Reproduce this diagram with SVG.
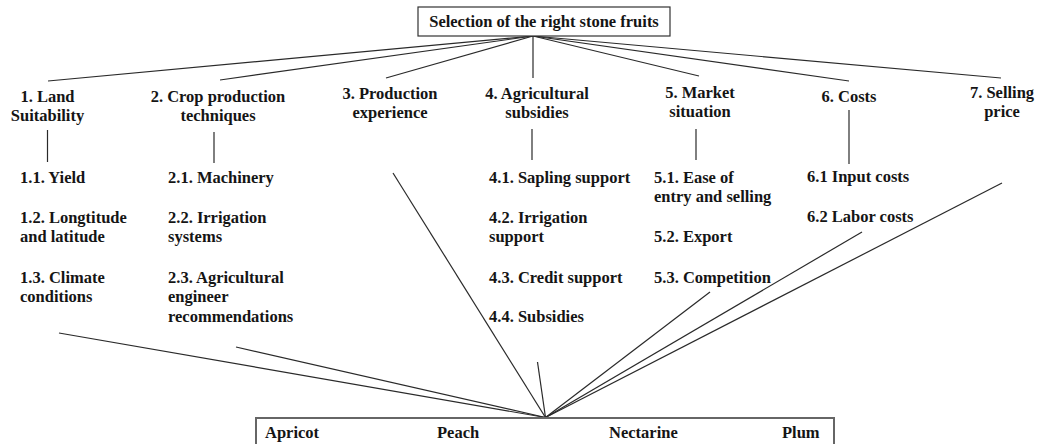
<svg xmlns="http://www.w3.org/2000/svg" width="1037" height="444" viewBox="0 0 1037 444">
<style>
.t{font-weight:bold;font-size:16.5px;fill:#151515}
.m{text-anchor:middle}
.ln{stroke:#2a2a2a;stroke-width:1.2;fill:none}
.box{fill:#fff;stroke:#333;stroke-width:1.2}
.box2{fill:#fff;stroke:#666;stroke-width:2}
</style>
<rect width="1037" height="444" fill="#fff"/>
<g id="connectors" class="ln">
<line x1="533" y1="36" x2="48" y2="81"/>
<line x1="533" y1="36" x2="220" y2="80"/>
<line x1="533" y1="36" x2="386" y2="78"/>
<line x1="533" y1="36" x2="533" y2="78"/>
<line x1="533" y1="36" x2="699" y2="76"/>
<line x1="533" y1="36" x2="849" y2="81"/>
<line x1="533" y1="36" x2="1001" y2="78"/>
<line x1="47.5" y1="130" x2="47.5" y2="162"/>
<line x1="214" y1="132" x2="214" y2="163"/>
<line x1="532" y1="129" x2="532" y2="160"/>
<line x1="696" y1="129" x2="696" y2="160"/>
<line x1="849" y1="110" x2="849" y2="164"/>
<line x1="59" y1="333" x2="545.5" y2="417.5"/>
<line x1="236" y1="347" x2="545.5" y2="417.5"/>
<line x1="393" y1="173" x2="545.5" y2="417.5"/>
<line x1="537.5" y1="362" x2="545.5" y2="417.5"/>
<line x1="710" y1="292" x2="545.5" y2="417.5"/>
<line x1="862" y1="232" x2="545.5" y2="417.5"/>
<line x1="1002" y1="183" x2="545.5" y2="417.5"/>
</g>
<g class="t" font-family="'Liberation Serif', Tinos, 'Noto Serif', 'DejaVu Serif', FreeSerif, 'Times New Roman', serif">
<g id="root">
<rect class="box" x="418" y="7" width="252" height="29"/>
<text class="m" x="544" y="27">Selection of the right stone fruits</text>
</g>
<g id="c1">
<text class="m" x="47.5" y="102">1. Land</text>
<text class="m" x="47.5" y="121">Suitability</text>
</g>
<g id="c2">
<text class="m" x="218" y="102">2. Crop production</text>
<text class="m" x="218" y="121">techniques</text>
</g>
<g id="c3">
<text class="m" x="390" y="99">3. Production</text>
<text class="m" x="390" y="118">experience</text>
</g>
<g id="c4">
<text class="m" x="537" y="99">4. Agricultural</text>
<text class="m" x="537" y="118">subsidies</text>
</g>
<g id="c5">
<text class="m" x="700" y="97.5">5. Market</text>
<text class="m" x="700" y="117">situation</text>
</g>
<g id="c6">
<text class="m" x="849" y="101.5">6. Costs</text>
</g>
<g id="c7">
<text class="m" x="1002" y="97.5">7. Selling</text>
<text class="m" x="1002" y="117">price</text>
</g>
<g id="c1-sub">
<text x="20" y="183">1.1. Yield</text>
<text x="20" y="223">1.2. Longtitude</text>
<text x="20" y="242">and latitude</text>
<text x="20" y="283">1.3. Climate</text>
<text x="20" y="302">conditions</text>
</g>
<g id="c2-sub">
<text x="168" y="183">2.1. Machinery</text>
<text x="168" y="223">2.2. Irrigation</text>
<text x="168" y="242">systems</text>
<text x="168" y="283">2.3. Agricultural</text>
<text x="168" y="302">engineer</text>
<text x="168" y="322">recommendations</text>
</g>
<g id="c4-sub">
<text x="489" y="183">4.1. Sapling support</text>
<text x="489" y="223">4.2. Irrigation</text>
<text x="489" y="242">support</text>
<text x="489" y="283">4.3. Credit support</text>
<text x="489" y="322">4.4. Subsidies</text>
</g>
<g id="c5-sub">
<text x="654" y="183">5.1. Ease of</text>
<text x="654" y="202">entry and selling</text>
<text x="654" y="242">5.2. Export</text>
<text x="654" y="283">5.3. Competition</text>
</g>
<g id="c6-sub">
<text x="807" y="182">6.1 Input costs</text>
<text x="807" y="222">6.2 Labor costs</text>
</g>
<g id="fruits">
<rect class="box2" x="256" y="418" width="578" height="40"/>
<text x="265" y="438">Apricot</text>
<text x="437" y="438">Peach</text>
<text x="609" y="438">Nectarine</text>
<text x="782" y="438">Plum</text>
</g>
</g>
</svg>
